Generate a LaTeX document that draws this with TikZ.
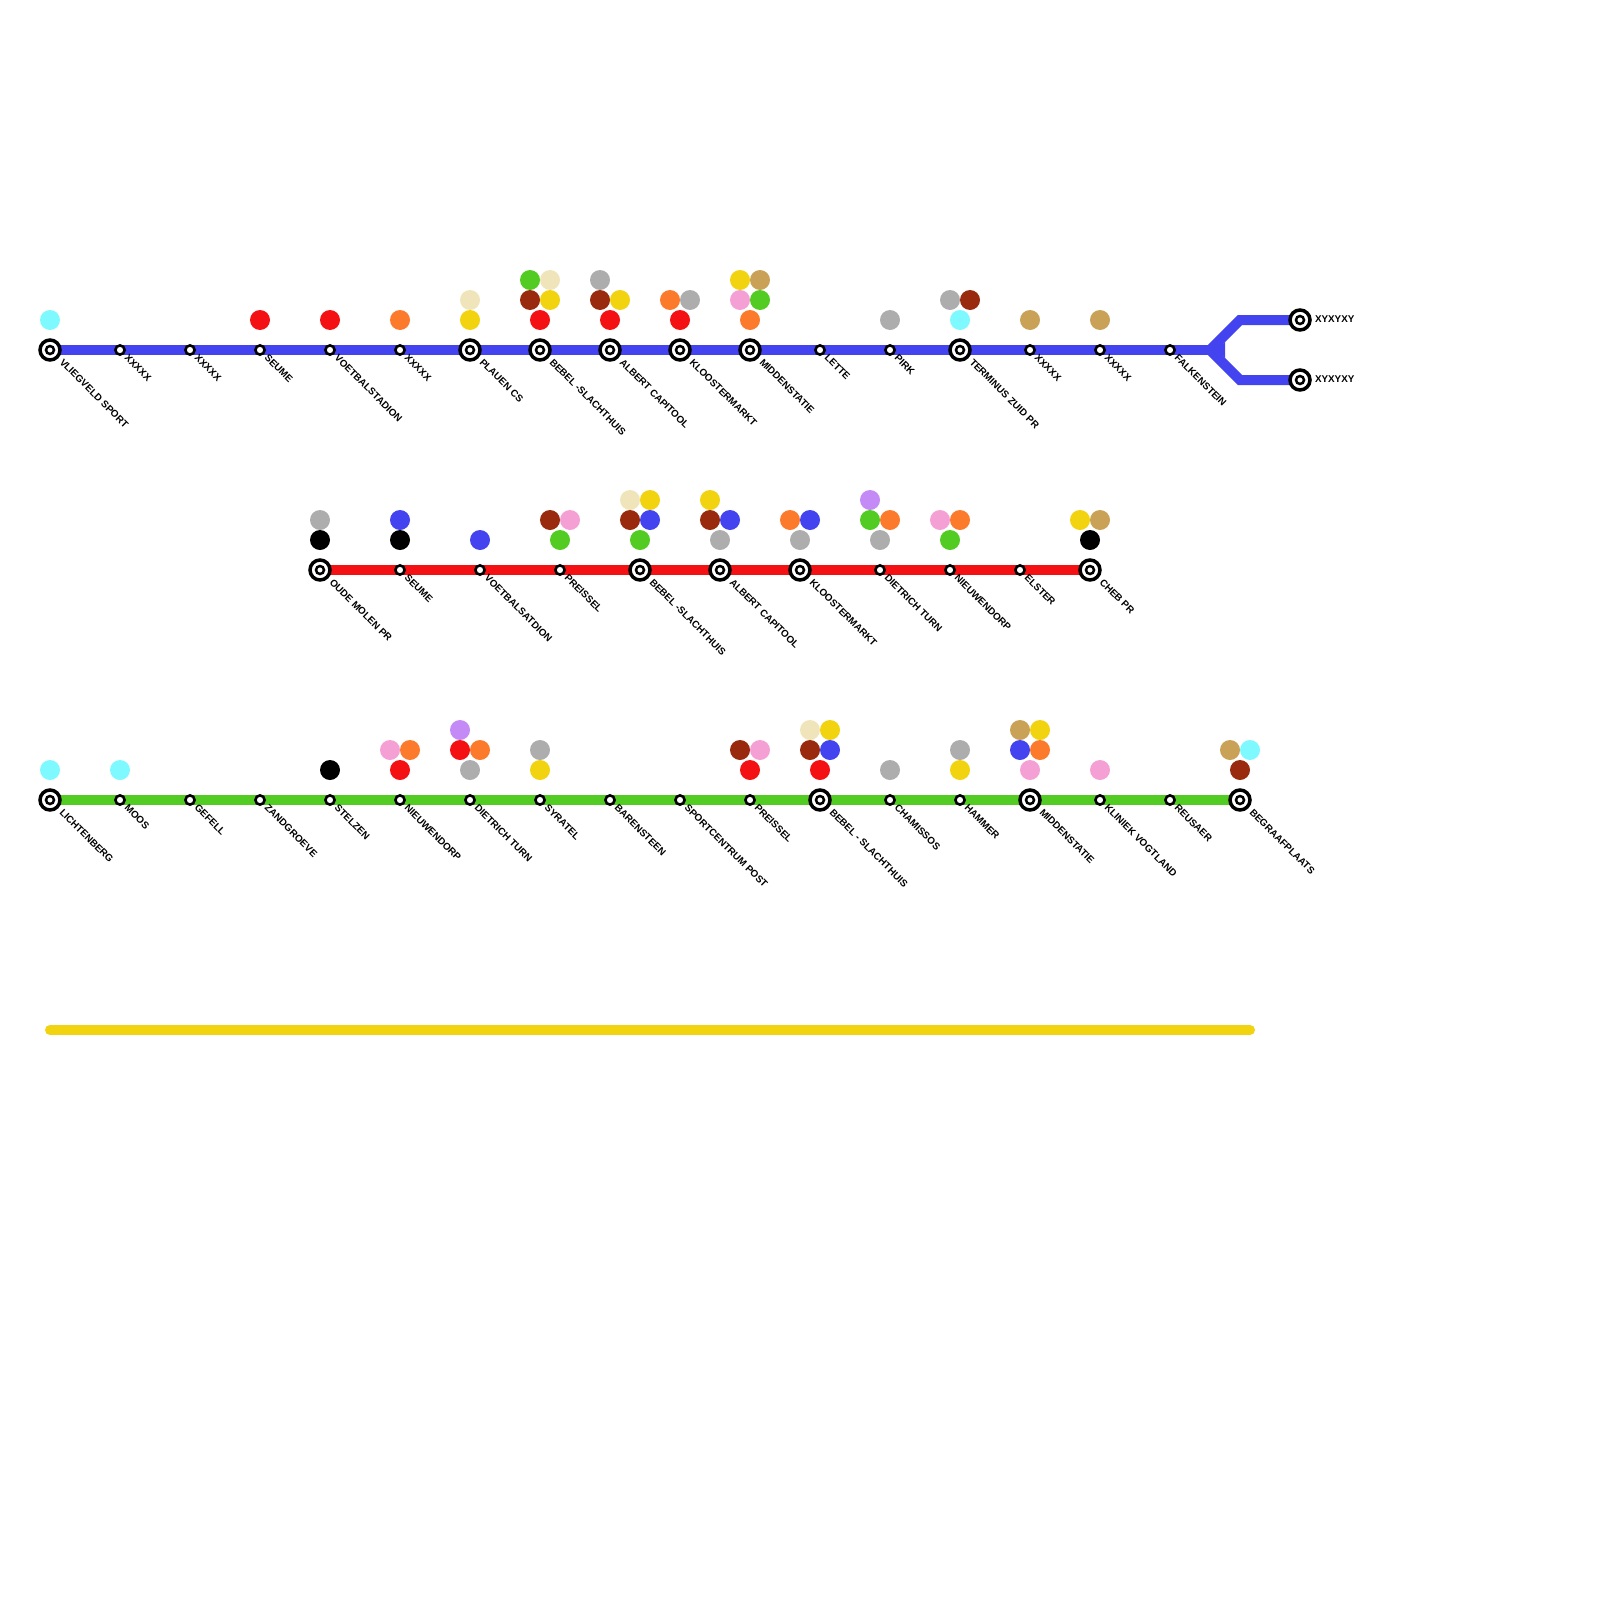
\documentclass[tikz,border=0pt]{standalone}
\usepackage{fontspec}
\setmainfont{Liberation Sans}[Scale=1]
\usetikzlibrary{backgrounds}
\definecolor{cCyan}{HTML}{7DF9FF}
\definecolor{cRed}{HTML}{F41114}
\definecolor{cOrange}{HTML}{FC7A2C}
\definecolor{cYellow}{HTML}{F1D30F}
\definecolor{cCream}{HTML}{F0E5BA}
\definecolor{cGreen}{HTML}{52CC22}
\definecolor{cBrown}{HTML}{992A0D}
\definecolor{cGray}{HTML}{ADADAD}
\definecolor{cTan}{HTML}{C9A257}
\definecolor{cBlue}{HTML}{4343F0}
\definecolor{cPink}{HTML}{F5A0D5}
\definecolor{cPurple}{HTML}{C48AF5}
\definecolor{cBlack}{HTML}{000000}
\tikzset{
  termouter/.style={circle,draw=black,fill=white,line width=3.5pt,minimum size=20pt,inner sep=0pt},
  terminner/.style={circle,draw=black,fill=white,line width=2.5pt,minimum size=8pt,inner sep=0pt},
  smallstn/.style={circle,draw=black,fill=white,line width=2.6pt,minimum size=9.2pt,inner sep=0pt},
  lab/.style={anchor=base west,inner sep=0pt,outer sep=0pt,font=\fontsize{9.85pt}{10pt}\selectfont\bfseries,text=black},
  spotstyle/.style={circle,fill=#1,minimum size=20pt,inner sep=0pt,outer sep=0pt,draw=none},
  metro/.style={line width=10pt,color=#1}
}
\newcount\spotno
\newcommand{\tstn}[4]{%
  \node[termouter] (#1) at (#2,#3) {};
  \node[terminner] (#1i) at (#2,#3) {};
  \node[lab,rotate=-45] (#1l) at ({#2+9},{#3+13}) {#4};}
\newcommand{\sstn}[4]{%
  \node[smallstn] (#1) at (#2,#3) {};
  \node[lab,rotate=-45] (#1l) at ({#2+4},{#3+8.5}) {#4};}
\newcommand{\spot}[3]{%
  \global\advance\spotno by 1
  \node[spotstyle=#1] (spot\the\spotno) at (#2,#3) {};}
\begin{document}
\begin{tikzpicture}[x=1pt,y=-1pt]
\useasboundingbox (0,0) rectangle (1600,1600);
% blue line stations
\tstn{b1}{50}{350}{VLIEGVELD SPORT}
\sstn{b2}{120}{350}{XXXXX}
\sstn{b3}{190}{350}{XXXXX}
\sstn{b4}{260}{350}{SEUME}
\sstn{b5}{330}{350}{VOETBALSTADION}
\sstn{b6}{400}{350}{XXXXX}
\tstn{b7}{470}{350}{PLAUEN CS}
\tstn{b8}{540}{350}{BEBEL -SLACHTHUIS}
\tstn{b9}{610}{350}{ALBERT CAPITOOL}
\tstn{b10}{680}{350}{KLOOSTERMARKT}
\tstn{b11}{750}{350}{MIDDENSTATIE}
\sstn{b12}{820}{350}{LETTE}
\sstn{b13}{890}{350}{PIRK}
\tstn{b14}{960}{350}{TERMINUS ZUID PR}
\sstn{b15}{1030}{350}{XXXXX}
\sstn{b16}{1100}{350}{XXXXX}
\sstn{b17}{1170}{350}{FALKENSTEIN}
\node[termouter] (b18) at (1300,320) {};
\node[terminner] (b18i) at (1300,320) {};
\node[lab] (b18l) at (1315,322.5) {XYXYXY};
\node[termouter] (b19) at (1300,380) {};
\node[terminner] (b19i) at (1300,380) {};
\node[lab] (b19l) at (1315,382.5) {XYXYXY};
% red line stations
\tstn{r1}{320}{570}{OUDE MOLEN PR}
\sstn{r2}{400}{570}{SEUME}
\sstn{r3}{480}{570}{VOETBALSATDION}
\sstn{r4}{560}{570}{PREISSEL}
\tstn{r5}{640}{570}{BEBEL -SLACHTHUIS}
\tstn{r6}{720}{570}{ALBERT CAPITOOL}
\tstn{r7}{800}{570}{KLOOSTERMARKT}
\sstn{r8}{880}{570}{DIETRICH TURN}
\sstn{r9}{950}{570}{NIEUWENDORP}
\sstn{r10}{1020}{570}{ELSTER}
\tstn{r11}{1090}{570}{CHEB PR}
% green line stations
\tstn{g1}{50}{800}{LICHTENBERG}
\sstn{g2}{120}{800}{MOOS}
\sstn{g3}{190}{800}{GEFELL}
\sstn{g4}{260}{800}{ZANDGROEVE}
\sstn{g5}{330}{800}{STELZEN}
\sstn{g6}{400}{800}{NIEUWENDORP}
\sstn{g7}{470}{800}{DIETRICH TURN}
\sstn{g8}{540}{800}{SYRATEL}
\sstn{g9}{610}{800}{BARENSTEEN}
\sstn{g10}{680}{800}{SPORTCENTRUM POST}
\sstn{g11}{750}{800}{PREISSEL}
\tstn{g12}{820}{800}{BEBEL - SLACHTHUIS}
\sstn{g13}{890}{800}{CHAMISSOS}
\sstn{g14}{960}{800}{HAMMER}
\tstn{g15}{1030}{800}{MIDDENSTATIE}
\sstn{g16}{1100}{800}{KLINIEK VOGTLAND}
\sstn{g17}{1170}{800}{REUSAER}
\tstn{g18}{1240}{800}{BEGRAAFPLAATS}
% connector waypoints
\coordinate (forkroot) at (1210,350);
\coordinate (forkend) at (1225,350);
\coordinate (forkup) at (1240,320);
\coordinate (forkdown) at (1240,380);
\coordinate (y1) at (50,1030);
\coordinate (y2) at (1250,1030);
\begin{scope}[on background layer]
  \draw[metro=cBlue] (b1.center) -- (forkend);
  \draw[metro=cBlue,line join=miter] (b18.center) -- (forkup) -- (forkroot) -- (forkdown) -- (b19.center);
  \fill[cBlue] (1216,350) -- (1225,342) -- (1225,358) -- cycle;
  \draw[metro=cRed] (r1.center) -- (r11.center);
  \draw[metro=cGreen] (g1.center) -- (g18.center);
  \draw[metro=cYellow,line cap=round] (y1) -- (y2);
\end{scope}
% blue line spots
\spot{cCyan}{50}{320}
\spot{cRed}{260}{320}
\spot{cRed}{330}{320}
\spot{cOrange}{400}{320}
\spot{cYellow}{470}{320}\spot{cCream}{470}{300}
\spot{cRed}{540}{320}\spot{cBrown}{530}{300}\spot{cYellow}{550}{300}\spot{cGreen}{530}{280}\spot{cCream}{550}{280}
\spot{cRed}{610}{320}\spot{cBrown}{600}{300}\spot{cYellow}{620}{300}\spot{cGray}{600}{280}
\spot{cRed}{680}{320}\spot{cOrange}{670}{300}\spot{cGray}{690}{300}
\spot{cOrange}{750}{320}\spot{cPink}{740}{300}\spot{cGreen}{760}{300}\spot{cYellow}{740}{280}\spot{cTan}{760}{280}
\spot{cGray}{890}{320}
\spot{cCyan}{960}{320}\spot{cGray}{950}{300}\spot{cBrown}{970}{300}
\spot{cTan}{1030}{320}
\spot{cTan}{1100}{320}
% red line spots
\spot{cBlack}{320}{540}\spot{cGray}{320}{520}
\spot{cBlack}{400}{540}\spot{cBlue}{400}{520}
\spot{cBlue}{480}{540}
\spot{cGreen}{560}{540}\spot{cBrown}{550}{520}\spot{cPink}{570}{520}
\spot{cGreen}{640}{540}\spot{cBrown}{630}{520}\spot{cBlue}{650}{520}\spot{cCream}{630}{500}\spot{cYellow}{650}{500}
\spot{cGray}{720}{540}\spot{cBrown}{710}{520}\spot{cBlue}{730}{520}\spot{cYellow}{710}{500}
\spot{cGray}{800}{540}\spot{cOrange}{790}{520}\spot{cBlue}{810}{520}
\spot{cGray}{880}{540}\spot{cGreen}{870}{520}\spot{cOrange}{890}{520}\spot{cPurple}{870}{500}
\spot{cGreen}{950}{540}\spot{cPink}{940}{520}\spot{cOrange}{960}{520}
\spot{cBlack}{1090}{540}\spot{cYellow}{1080}{520}\spot{cTan}{1100}{520}
% green line spots
\spot{cCyan}{50}{770}
\spot{cCyan}{120}{770}
\spot{cBlack}{330}{770}
\spot{cRed}{400}{770}\spot{cPink}{390}{750}\spot{cOrange}{410}{750}
\spot{cGray}{470}{770}\spot{cRed}{460}{750}\spot{cOrange}{480}{750}\spot{cPurple}{460}{730}
\spot{cYellow}{540}{770}\spot{cGray}{540}{750}
\spot{cRed}{750}{770}\spot{cBrown}{740}{750}\spot{cPink}{760}{750}
\spot{cRed}{820}{770}\spot{cBrown}{810}{750}\spot{cBlue}{830}{750}\spot{cCream}{810}{730}\spot{cYellow}{830}{730}
\spot{cGray}{890}{770}
\spot{cYellow}{960}{770}\spot{cGray}{960}{750}
\spot{cPink}{1030}{770}\spot{cBlue}{1020}{750}\spot{cOrange}{1040}{750}\spot{cTan}{1020}{730}\spot{cYellow}{1040}{730}
\spot{cPink}{1100}{770}
\spot{cBrown}{1240}{770}\spot{cTan}{1230}{750}\spot{cCyan}{1250}{750}
\end{tikzpicture}
\end{document}
